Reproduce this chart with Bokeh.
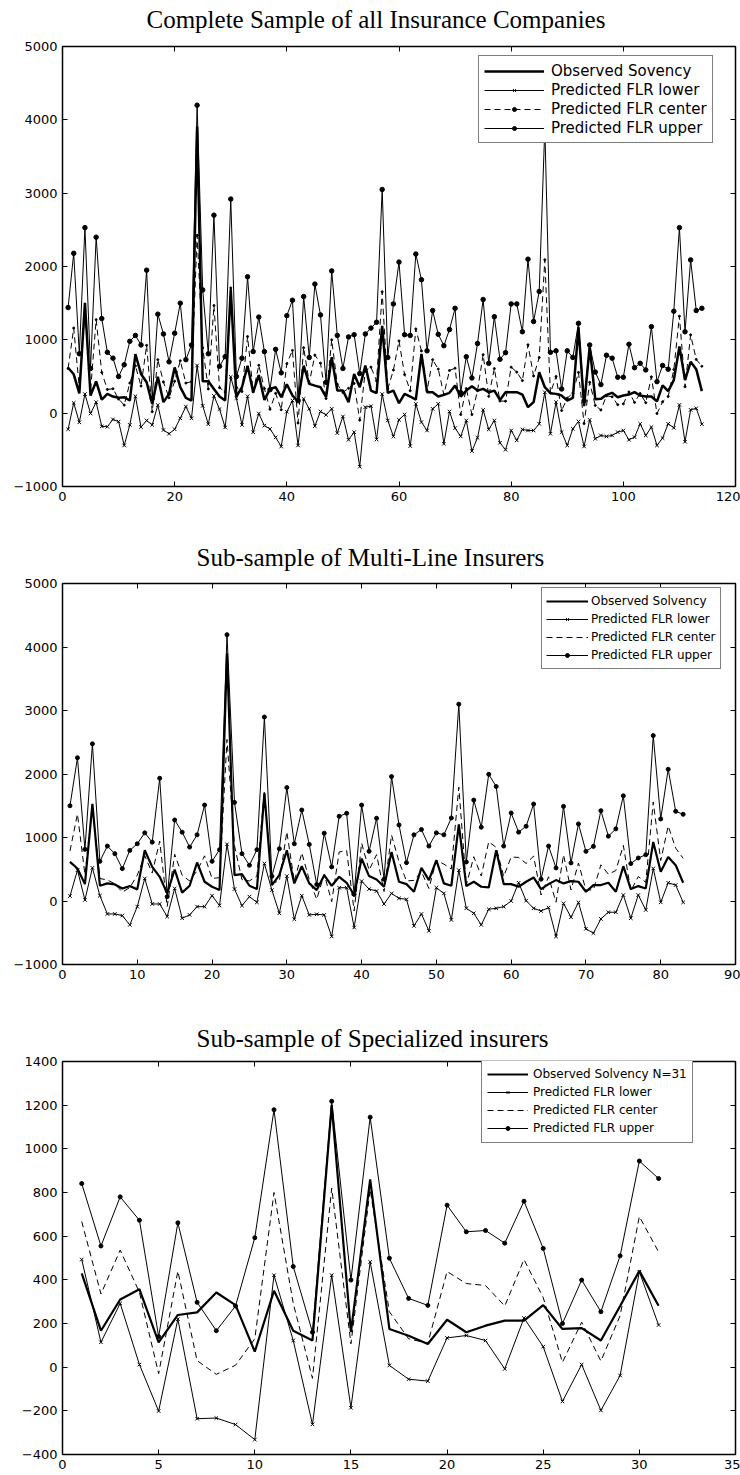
from bokeh.plotting import figure
from bokeh.models import (Range1d, FixedTicker, LinearAxis, Legend, LegendItem,
                          ColumnDataSource)
from bokeh.layouts import column
from bokeh.embed import file_html
from bokeh.resources import INLINE

# ---------------- data: complete sample (114 insurers) ----------------
all_obs = [620, 530, 270, 1505, 240, 433, 185, 263, 227, 209,
           218, 172, 805, 535, 422, 125, 497, 150, 263, 624,
           354, 209, 172, 3910, 435, 435, 331, 227, 172, 1690,
           227, 354, 647, 286, 520, 180, 331, 354, 218, 395,
           240, 160, 649, 399, 376, 354, 218, 762, 308, 308,
           150, 535, 354, 649, 308, 272, 1190, 277, 308, 136,
           263, 227, 186, 807, 286, 286, 227, 249, 277, 376,
           227, 308, 367, 308, 331, 286, 308, 181, 286, 286,
           286, 254, 82, 150, 558, 354, 272, 263, 240, 172,
           209, 1170, 95, 907, 190, 195, 250, 277, 218, 240,
           254, 286, 240, 227, 227, 160, 380, 300, 450, 910,
           450, 700, 600, 300]
all_lower = [-220, 140, -125, 260, -5, 150, -180, -185, -85, -115,
             -440, -160, 230, -190, -100, -160, 110, -230, -280, -220,
             -70, 90, -70, 650, 100, -150, 235, 55, -195, 495,
             205, -160, 230, -260, -5, -170, -215, -330, -455, 20,
             172, -440, 195, 59, -177, 23, -23, 59, -272, -45,
             -363, -259, -730, 82, 95, -358, 260, -100, -317, -91,
             -18, -449, 127, -122, -236, 59, 127, -417, 23, -204,
             -317, -100, -517, -336, 45, -222, -100, -404, -499, -236,
             -370, -222, -236, -236, -145, 284, -281, 150, -259, -440,
             -213, -113, -454, -91, -349, -304, -317, -304, -259, -236,
             -363, -327, -145, -304, -190, -440, -340, -145, -200, 113,
             -390, 45, 66, -150]
all_center = [610, 1160, 343, 1395, 303, 1275, 555, 323, 333, 193,
              110, 410, 645, 370, 925, 20, 730, 425, 210, 435,
              715, 410, 430, 2425, 890, 330, 1468, 348, 288, 1708,
              353, 295, 1045, 290, 653, 335, 53, 270, 48, 675,
              856, -135, 893, 410, 792, 682, 199, 1000, 394, 283,
              339, 406, -95, 581, 628, 441, 1655, 330, 587, 985,
              526, 306, 1149, 849, 307, 730, 601, 252, 582, 613,
              -19, 335, -19, 307, 798, 229, 608, 166, 163, 627,
              560, 444, 932, 507, 758, 2092, 275, 500, 36, 205,
              274, 556, -142, 420, 106, 43, 237, 223, 116, 127,
              289, 147, 268, 143, 495, -5, 155, 228, 595, 1322,
              360, 1068, 733, 640]
all_upper = [1440, 2180, 810, 2530, 610, 2400, 1290, 830, 750, 500,
             660, 980, 1060, 930, 1950, 200, 1350, 1080, 700, 1090,
             1500, 730, 930, 4200, 1680, 810, 2700, 640, 770, 2920,
             500, 750, 1860, 840, 1310, 840, 320, 870, 550, 1330,
             1540, 170, 1590, 760, 1760, 1340, 420, 1940, 1060, 610,
             1040, 1070, 540, 1080, 1160, 1240, 3050, 760, 1490, 2060,
             1070, 1060, 2170, 1820, 850, 1400, 1075, 920, 1140, 1430,
             280, 770, 480, 950, 1550, 680, 1315, 735, 825, 1490,
             1490, 1110, 2100, 1250, 1660, 3900, 830, 850, 330, 850,
             760, 1225, 170, 930, 560, 390, 790, 750, 490, 490,
             940, 620, 680, 590, 1180, 430, 650, 600, 1390, 2530,
             1110, 2090, 1400, 1430]

# ---------------- data: multi-line insurers (83) ----------------
multi_obs = [616, 512, 266, 1529, 240, 277, 261, 198, 235, 183,
             799, 538, 381, 120, 496, 131, 240, 606, 303, 224,
             172, 3900, 407, 423, 240, 188, 1697, 251, 407, 799,
             277, 548, 277, 172, 407, 240, 381, 287, 94, 668,
             392, 339, 224, 773, 303, 266, 146, 522, 329, 642,
             277, 240, 1206, 235, 303, 224, 214, 799, 266, 266,
             224, 303, 371, 188, 266, 329, 277, 313, 303, 146,
             251, 251, 287, 146, 548, 188, 235, 198, 929, 459,
             694, 564, 287]
multi_lower = [78, 485, 16, 522, 84, -204, -204, -230, -376, -89,
               355, -47, -47, -245, 198, -271, -219, -89, -89, 84,
               -73, 893, 188, -73, 68, -21, 590, 172, -193, 392,
               -287, 84, -219, -209, -219, -559, 209, 209, -418, 313,
               188, 157, -47, 120, 42, 26, -392, -204, -470, 209,
               120, -298, 485, -115, -193, -376, -130, -115, -89, 0,
               287, 5, -115, -157, -104, -559, -37, -256, -21, -438,
               -506, -282, -177, -177, 94, -271, 94, -141, 512, -21,
               287, 251, -21]
multi_center = [789, 1370, 415, 1499, 355, 331, 271, 140, 211, 406,
                714, 440, 943, -89, 737, 407, 315, 477, 711, 355,
                368, 2544, 871, 336, 316, 394, 1744, 281, 315, 1090,
                307, 759, 336, 26, 425, -11, 772, 795, -157, 912,
                485, 730, 149, 1040, 620, 315, 325, 461, 198, 641,
                581, 505, 1793, 250, 698, 393, 933, 844, 388, 693,
                686, 591, 706, 94, 381, -19, 727, 172, 597, 172,
                177, 570, 422, 480, 876, 159, 386, 294, 1559, 636,
                1181, 832, 672]
multi_upper = [1500, 2256, 813, 2475, 625, 865, 745, 510, 797, 901,
               1073, 927, 1933, 68, 1276, 1084, 849, 1042, 1511, 625,
               808, 4194, 1553, 745, 563, 808, 2897, 390, 823, 1787,
               901, 1433, 891, 260, 1068, 537, 1334, 1381, 104, 1511,
               782, 1303, 344, 1959, 1198, 604, 1042, 1125, 865, 1073,
               1042, 1308, 3100, 615, 1589, 1162, 1995, 1803, 865, 1386,
               1084, 1177, 1527, 344, 865, 521, 1490, 600, 1214, 782,
               860, 1422, 1021, 1136, 1657, 589, 677, 729, 2605, 1292,
               2074, 1412, 1365]

# ---------------- data: specialized insurers (31) ----------------
spec_obs = [430, 167, 310, 357, 114, 239, 251, 342, 284, 71,
            350, 167, 122, 1200, 160, 860, 175, 144, 106, 217,
            160, 190, 213, 213, 284, 175, 179, 122, 280, 441, 281]
spec_lower = [493, 114, 292, 12, -201, 220, -236, -233, -263, -332,
              421, 122, -262, 421, -186, 482, 8, -55, -64, 134,
              145, 122, -8, 225, 94, -157, 12, -198, -38, 437, 193]
spec_center = [667, 335, 536, 343, -30, 440, 30, -33, 9, 130,
               800, 292, -51, 820, 107, 814, 254, 130, 110, 438,
               383, 374, 280, 493, 319, 22, 206, 28, 236, 690, 528]
spec_upper = [841, 555, 780, 673, 140, 661, 297, 167, 280, 593,
              1179, 461, 160, 1218, 399, 1145, 499, 315, 283, 742,
              620, 626, 568, 760, 544, 200, 399, 254, 510, 944, 864]

titles = ["Complete Sample of all Insurance Companies",
          "Sub-sample of Multi-Line Insurers",
          "Sub-sample of Specialized insurers"]
labels_all = ["Observed Sovency", "Predicted FLR lower", "Predicted FLR center", "Predicted FLR upper"]
labels_multi = ["Observed Solvency", "Predicted FLR lower", "Predicted FLR center", "Predicted FLR upper"]
labels_spec = ["Observed Solvency N=31", "Predicted FLR lower", "Predicted FLR center", "Predicted FLR upper"]

xticks_all = [0, 20, 40, 60, 80, 100, 120]
xticks_multi = [0, 10, 20, 30, 40, 50, 60, 70, 80, 90]
xticks_spec = [0, 5, 10, 15, 20, 25, 30, 35]
yticks_big = [-1000, 0, 1000, 2000, 3000, 4000, 5000]
yticks_spec = [-400, -200, 0, 200, 400, 600, 800, 1000, 1200, 1400]

TICK_FONT = "DejaVu Sans"
TITLE_FONT = "Liberation Serif"


def style_axis(ax, ticks, labels=True, tick_in=5, tick_out=0, tick_color="black"):
    ax.ticker = FixedTicker(ticks=ticks)
    ax.major_tick_in = tick_in
    ax.major_tick_out = tick_out
    ax.minor_tick_line_color = None
    ax.major_tick_line_color = tick_color
    ax.major_tick_line_width = 1
    ax.axis_line_color = None
    if labels:
        ax.major_label_text_font = TICK_FONT
        ax.major_label_text_font_size = "13px"
        ax.major_label_text_color = "black"
        ax.major_label_standoff = 5
    else:
        ax.major_label_text_font_size = "1px"
        ax.major_label_text_color = None
        ax.major_label_text_alpha = 0
        ax.major_label_standoff = 0


def make_panel(title, t_off, t_standoff, t_gap, xmax, xticks, ymin, ymax, yticks,
               obs, lower, center, upper, labels, H, bt, bb, obs_w, xsize, dsize, leg):
    xs = list(range(1, len(obs) + 1))
    p = figure(width=740, height=H, title=title,
               x_range=Range1d(0, xmax), y_range=Range1d(ymin, ymax),
               output_backend="svg", toolbar_location=None,
               min_border_left=62, min_border_right=5, min_border_top=bt, min_border_bottom=bb)
    p.xgrid.grid_line_color = None
    p.ygrid.grid_line_color = None
    p.outline_line_color = "black"
    p.outline_line_width = 1.5
    p.background_fill_color = "white"
    p.border_fill_color = "white"
    p.title.text_font = TITLE_FONT
    p.title.text_font_size = "25px"
    p.title.text_font_style = "normal"
    p.title.text_color = "black"
    p.title.align = "left"
    p.title.offset = t_off
    p.title.standoff = t_standoff

    style_axis(p.xaxis[0], xticks)
    style_axis(p.yaxis[0], yticks)
    ax_r = LinearAxis()
    style_axis(ax_r, yticks, labels=False)
    p.add_layout(ax_r, "right")
    ax_t = LinearAxis()
    style_axis(ax_t, xticks, labels=False)
    p.add_layout(ax_t, "above")
    # invisible spacer between the top ticks and the title
    ax_gap = LinearAxis()
    style_axis(ax_gap, xticks, labels=False, tick_in=0, tick_out=t_gap, tick_color=None)
    p.add_layout(ax_gap, "above")

    src = ColumnDataSource(dict(x=xs, obs=obs, lower=lower, center=center, upper=upper))
    r_obs = p.line("x", "obs", source=src, line_color="black", line_width=obs_w)
    r_low = p.line("x", "lower", source=src, line_color="black", line_width=1)
    r_lowm = p.scatter("x", "lower", source=src, marker="x", size=xsize,
                       line_color="black", line_width=1)
    r_cen = p.line("x", "center", source=src, line_color="black", line_width=1,
                   line_dash="6 4")
    r_up = p.line("x", "upper", source=src, line_color="black", line_width=1)
    r_upm = p.scatter("x", "upper", source=src, marker="circle", size=dsize,
                      line_color="black", fill_color="black")
    cen_items = [r_cen]
    if leg.get("center_dot"):
        r_dot = p.scatter("x", "center", source=src, marker="circle", size=2,
                          line_color="black", fill_color="black")
        cen_items.append(r_dot)

    legend = Legend(items=[LegendItem(label=labels[0], renderers=[r_obs]),
                           LegendItem(label=labels[1], renderers=[r_low, r_lowm]),
                           LegendItem(label=labels[2], renderers=cen_items),
                           LegendItem(label=labels[3], renderers=[r_up, r_upm])],
                    location=leg["loc"])
    legend.label_text_font = TICK_FONT
    legend.label_text_font_size = leg["font"]
    legend.label_text_color = "black"
    legend.border_line_color = "black"
    legend.border_line_width = 1
    legend.background_fill_color = "white"
    legend.background_fill_alpha = 1.0
    legend.padding = leg["pad"]
    legend.spacing = 0
    legend.margin = 0
    legend.label_height = leg["row"]
    legend.glyph_height = 10
    legend.glyph_width = leg["gw"]
    legend.label_standoff = leg["so"]
    p.add_layout(legend)
    return p


p1 = make_panel(titles[0], 84, 7, 10, 120, xticks_all, -1000, 5000, yticks_big,
                all_obs, all_lower, all_center, all_upper, labels_all,
                H=520, bt=45, bb=34, obs_w=2.5, xsize=5, dsize=4.5,
                leg=dict(loc=(416, 343), font="15px", pad=5, row=19, gw=60, so=7,
                         center_dot=True))
p2 = make_panel(titles[1], 134, 5, 10, 90, xticks_multi, -1000, 5000, yticks_big,
                multi_obs, multi_lower, multi_center, multi_upper, labels_multi,
                H=480, bt=63, bb=36, obs_w=2.2, xsize=5, dsize=4,
                leg=dict(loc=(479, 295), font="12px", pad=4, row=18, gw=42, so=3))
p3 = make_panel(titles[2], 134, 3, 8, 35, xticks_spec, -400, 1400, yticks_spec,
                spec_obs, spec_lower, spec_center, spec_upper, labels_spec,
                H=475, bt=61, bb=21, obs_w=2.2, xsize=5, dsize=4,
                leg=dict(loc=(419, 311), font="12px", pad=5, row=18, gw=41, so=5))

layout = column(p1, p2, p3)
open("out.html", "w").write(file_html(layout, INLINE))
